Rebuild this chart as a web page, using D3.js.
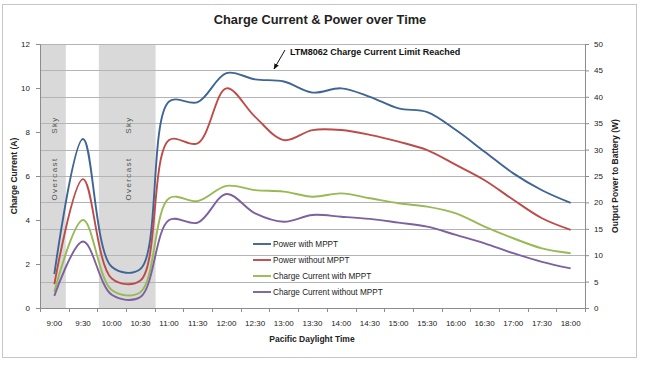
<!DOCTYPE html>
<html>
<head>
<meta charset="utf-8">
<script src="https://cdn.jsdelivr.net/npm/d3@7"></script>
<style>
  html, body { margin: 0; padding: 0; background: #fff; }
  svg { display: block; font-family: "Liberation Sans", Arial, sans-serif; }
</style>
</head>
<body>
<div id="chart"></div>
<script>
// Times on the category axis
const categories = ["9:00", "9:30", "10:00", "10:30", "11:00", "11:30", "12:00", "12:30", "13:00",
  "13:30", "14:00", "14:30", "15:00", "15:30", "16:00", "16:30", "17:00", "17:30", "18:00"];

// Power series (W, right axis)
const powerWithMppt = [6.4, 32.0, 7.8, 7.4, 39.1, 39.0, 44.5, 43.3, 42.9, 40.8, 41.6, 40.0,
  37.8, 37.1, 33.7, 29.6, 25.5, 22.3, 19.9];
const powerWithoutMppt = [4.5, 24.4, 5.6, 5.2, 31.8, 31.2, 41.6, 36.2, 31.8, 33.7, 33.7, 32.8,
  31.5, 29.9, 27.1, 24.2, 20.5, 17.0, 14.8];

// Charge current series (A, left axis)
const currentWithMppt = [0.74, 4.0, 0.82, 0.72, 4.99, 4.86, 5.55, 5.36, 5.29, 5.06, 5.21, 4.99,
  4.76, 4.61, 4.30, 3.70, 3.17, 2.71, 2.49];
const currentWithoutMppt = [0.55, 3.02, 0.6, 0.5, 4.0, 3.88, 5.18, 4.30, 3.92, 4.23, 4.15, 4.05,
  3.88, 3.70, 3.32, 2.94, 2.49, 2.10, 1.80];

// Overcast periods, in category-index units (start, end)
const overcast = [[0, 0.9], [2.05, 4.03]];

const leftTicks = [0, 2, 4, 6, 8, 10, 12];
const rightTicks = [0, 5, 10, 15, 20, 25, 30, 35, 40, 45, 50];

const series = [
  { name: "Power with MPPT", values: powerWithMppt, axis: "right", color: "#3E6595" },
  { name: "Power without MPPT", values: powerWithoutMppt, axis: "right", color: "#BE4B48" },
  { name: "Charge Current with MPPT", values: currentWithMppt, axis: "left", color: "#98B954" },
  { name: "Charge Current without MPPT", values: currentWithoutMppt, axis: "left", color: "#7D60A0" }
];

const width = 648, height = 367;
const plot = { left: 40, right: 585, top: 44, bottom: 308 };

const svg = d3.select("#chart").append("svg")
  .attr("width", width)
  .attr("height", height);

// chart frame
svg.append("rect")
  .attr("x", 2.5).attr("y", 4.5)
  .attr("width", 634).attr("height", 353)
  .attr("fill", "#fff")
  .attr("stroke", "#c6c6c6");

const x = d3.scaleBand().domain(categories).range([plot.left, plot.right]).paddingInner(0).paddingOuter(0);
const bw = x.bandwidth();
const xIdx = d3.scaleLinear().domain([0, categories.length]).range([plot.left, plot.right]);
const yLeft = d3.scaleLinear().domain([0, 12]).range([plot.bottom, plot.top]);
const yRight = d3.scaleLinear().domain([0, 50]).range([plot.bottom, plot.top]);

// overcast shading
svg.append("g").selectAll("rect")
  .data(overcast)
  .enter()
  .append("rect")
  .attr("x", d => xIdx(d[0]))
  .attr("y", plot.top)
  .attr("width", d => xIdx(d[1]) - xIdx(d[0]))
  .attr("height", plot.bottom - plot.top)
  .attr("fill", "#d9d9d9");

// gridlines (follow right axis)
svg.append("g").selectAll("line")
  .data(rightTicks.filter(t => t > 0))
  .enter()
  .append("line")
  .attr("x1", plot.left).attr("x2", plot.right)
  .attr("y1", d => Math.round(yRight(d)) + 0.5)
  .attr("y2", d => Math.round(yRight(d)) + 0.5)
  .attr("stroke", "#b4b4b4");

// overcast sky labels
overcast.forEach(d => {
  const cx = (xIdx(d[0]) + xIdx(d[1])) / 2 + 1;
  [["Sky", 125], ["Overcast", 179]].forEach(([txt, cy]) => {
    svg.append("text")
      .attr("transform", `translate(${cx},${cy}) rotate(-90)`)
      .attr("text-anchor", "middle")
      .attr("dy", "0.35em")
      .attr("font-size", 8)
      .attr("letter-spacing", 1.4)
      .attr("fill", "#555")
      .text(txt);
  });
});

// axes
const axisColor = "#8c8c8c";
const xAxis = svg.append("g")
  .attr("transform", `translate(0,${plot.bottom})`)
  .call(d3.axisBottom(x).tickSize(0).tickPadding(12));
xAxis.select(".domain").attr("stroke", axisColor);
xAxis.selectAll("text").attr("font-size", 8).attr("fill", "#222");
// tick marks between categories
xAxis.selectAll(".sep")
  .data(d3.range(categories.length + 1))
  .enter()
  .append("line")
  .attr("x1", d => Math.round(xIdx(d)) + 0.5)
  .attr("x2", d => Math.round(xIdx(d)) + 0.5)
  .attr("y1", 0).attr("y2", 4)
  .attr("stroke", axisColor);

const leftAxis = svg.append("g")
  .attr("transform", `translate(${plot.left},0)`)
  .call(d3.axisLeft(yLeft).tickValues(leftTicks).tickSize(4).tickPadding(6).tickSizeOuter(0));
leftAxis.select(".domain").attr("stroke", axisColor);
leftAxis.selectAll("line").attr("stroke", axisColor);
leftAxis.selectAll("text").attr("font-size", 8).attr("fill", "#222");

const rightAxis = svg.append("g")
  .attr("transform", `translate(${plot.right},0)`)
  .call(d3.axisRight(yRight).tickValues(rightTicks).tickSize(4).tickPadding(5).tickSizeOuter(0));
rightAxis.select(".domain").attr("stroke", axisColor);
rightAxis.selectAll("line").attr("stroke", axisColor);
rightAxis.selectAll("text").attr("font-size", 8).attr("fill", "#222");

// lines
const lineGen = scale => d3.line()
  .x((d, i) => x(categories[i]) + bw / 2)
  .y(d => scale(d))
  .curve(d3.curveCatmullRom);

svg.append("g").selectAll("path")
  .data(series)
  .enter()
  .append("path")
  .attr("d", s => lineGen(s.axis === "left" ? yLeft : yRight)(s.values))
  .attr("fill", "none")
  .attr("stroke", s => s.color)
  .attr("stroke-width", 1.9);

// title
svg.append("text")
  .attr("x", 320).attr("y", 24)
  .attr("text-anchor", "middle")
  .attr("font-size", 12.8)
  .attr("font-weight", "bold")
  .attr("fill", "#222")
  .text("Charge Current & Power over Time");

// axis titles
svg.append("text")
  .attr("x", 312).attr("y", 342)
  .attr("text-anchor", "middle")
  .attr("font-size", 8.5)
  .attr("font-weight", "bold")
  .attr("fill", "#222")
  .text("Pacific Daylight Time");

svg.append("text")
  .attr("transform", `translate(14,176) rotate(-90)`)
  .attr("text-anchor", "middle")
  .attr("dy", "0.35em")
  .attr("font-size", 8.5)
  .attr("font-weight", "bold")
  .attr("fill", "#222")
  .text("Charge Current (A)");

svg.append("text")
  .attr("transform", `translate(615,176) rotate(-90)`)
  .attr("text-anchor", "middle")
  .attr("dy", "0.35em")
  .attr("font-size", 8.5)
  .attr("font-weight", "bold")
  .attr("fill", "#222")
  .text("Output Power to Battery (W)");

// annotation
svg.append("defs").append("marker")
  .attr("id", "arrow")
  .attr("viewBox", "0 0 10 10")
  .attr("refX", 9).attr("refY", 5)
  .attr("markerWidth", 6).attr("markerHeight", 6)
  .attr("orient", "auto")
  .append("path")
  .attr("d", "M0,1 L10,5 L0,9 z")
  .attr("fill", "#111");

svg.append("line")
  .attr("x1", 285).attr("y1", 50)
  .attr("x2", 274).attr("y2", 69)
  .attr("stroke", "#111")
  .attr("stroke-width", 1)
  .attr("marker-end", "url(#arrow)");

svg.append("text")
  .attr("x", 290).attr("y", 55)
  .attr("font-size", 9)
  .attr("font-weight", "bold")
  .attr("fill", "#111")
  .text("LTM8062 Charge Current Limit Reached");

// legend
const legend = svg.append("g").attr("transform", "translate(253,244)");
const item = legend.selectAll("g")
  .data(series)
  .enter()
  .append("g")
  .attr("transform", (d, i) => `translate(0,${i * 16})`);
item.append("line")
  .attr("x1", 0).attr("x2", 18)
  .attr("stroke", d => d.color)
  .attr("stroke-width", 1.9);
item.append("text")
  .attr("x", 20)
  .attr("dy", "0.35em")
  .attr("font-size", 8.2)
  .attr("fill", "#222")
  .text(d => d.name);
</script>
</body>
</html>
